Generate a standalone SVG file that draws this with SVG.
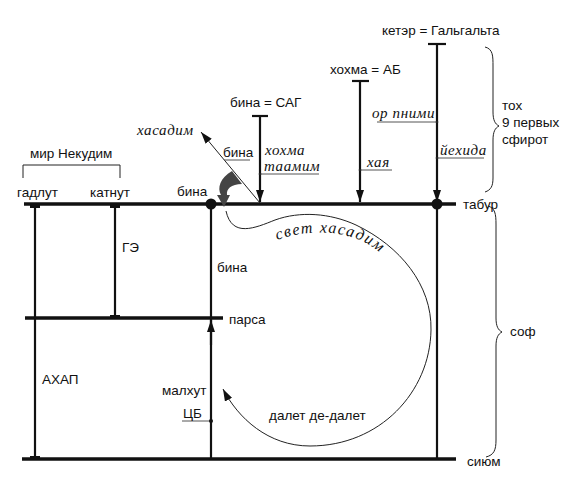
<svg xmlns="http://www.w3.org/2000/svg" width="579" height="479" viewBox="0 0 579 479">
<style>
.s{font-family:"Liberation Sans",Arial,sans-serif;font-size:13.5px;fill:#111}
.i{font-family:"Liberation Serif","Times New Roman",serif;font-style:italic;font-size:15px;fill:#111;letter-spacing:0.6px}
.thick{stroke:#111;stroke-width:3.5;fill:none}
.mid{stroke:#111;stroke-width:2.2;fill:none}
.thin{stroke:#222;stroke-width:1;fill:none}
.ul{stroke:#555;stroke-width:1;fill:none}
</style>
<defs>
<marker id="ah" viewBox="0 0 12 8" refX="12" refY="4" markerWidth="5.5" markerHeight="3.7" orient="auto" markerUnits="strokeWidth">
<path d="M0,0 L12,4 L0,8 Z" fill="#111"/>
</marker>
<marker id="ahs" viewBox="0 0 12 8" refX="12" refY="4" markerWidth="12" markerHeight="8" orient="auto" markerUnits="strokeWidth">
<path d="M0,0 L12,4 L0,8 Z" fill="#111"/>
</marker>
<path id="arcText" d="M277,240 C305,230 340,229 366,243 C378,250 387,258 394,267"/>
</defs>
<rect width="579" height="479" fill="#fff"/>

<g id="connectors">
<line class="thick" x1="24" y1="204" x2="456" y2="204"/>
<line class="thick" x1="25" y1="318" x2="223" y2="318"/>
<line class="thick" x1="22" y1="459" x2="456" y2="459"/>
<line class="mid" x1="35" y1="204" x2="35" y2="460"/>
<line class="mid" x1="115" y1="204" x2="115" y2="318"/>
<line class="mid" x1="211" y1="204" x2="211" y2="460"/>
<line class="mid" x1="437" y1="204" x2="437" y2="460"/>
<rect x="30" y="205" width="10" height="3" fill="#111"/>
<rect x="110" y="205" width="10" height="3" fill="#111"/>
<rect x="110" y="315" width="10" height="3" fill="#111"/>
<rect x="30" y="456" width="10" height="3" fill="#111"/>
<line class="mid" x1="211" y1="345" x2="211" y2="320" marker-end="url(#ah)"/>
<line class="mid" x1="437" y1="44" x2="437" y2="202" marker-end="url(#ah)"/>
<line class="mid" x1="428" y1="44" x2="446" y2="44"/>
<line class="mid" x1="360" y1="81" x2="360" y2="202" marker-end="url(#ah)"/>
<line class="mid" x1="352" y1="81" x2="369" y2="81"/>
<line class="mid" x1="260" y1="116" x2="260" y2="202" marker-end="url(#ah)"/>
<line class="mid" x1="252" y1="116" x2="268" y2="116"/>
<circle cx="211" cy="204" r="5.5" fill="#111"/>
<circle cx="437" cy="204" r="5.5" fill="#111"/>
<line class="thin" x1="260" y1="203" x2="201" y2="132" marker-end="url(#ahs)"/>
<path d="M232,171 C220,178 217,188 221,195 L217,195 L224,207 L230,195 L227,195 C226,189 231,184 242,184 Z" fill="#444"/>
<line class="ul" x1="224" y1="160" x2="250" y2="160"/>
<line class="ul" x1="260" y1="174" x2="319" y2="174"/>
<circle cx="260" cy="174" r="1.3" fill="#222"/>
<line class="ul" x1="360" y1="170" x2="392" y2="170"/>
<circle cx="360" cy="170" r="1.3" fill="#222"/>
<line class="ul" x1="377" y1="122" x2="437" y2="122"/>
<circle cx="437" cy="122" r="1.3" fill="#222"/>
<line class="ul" x1="437" y1="158" x2="484" y2="158"/>
<circle cx="437" cy="158" r="1.3" fill="#222"/>
<line class="ul" x1="182" y1="421" x2="211" y2="421"/>
<circle cx="211" cy="421" r="2" fill="#111"/>
<path class="thin" d="M226,211 C232,238 255,228 275,220 C300,211 330,213 356,225 C400,246 432,285 431,330 C430,392 380,446 310,446 C268,446 238,418 223,389" marker-end="url(#ahs)"/>
<path class="thin" d="M485,47 C493,49 493,56 493,66 L493,112 C493,120 495,124 499,126 C495,128 493,132 493,140 L493,178 C493,186 491,190 485,192"/>
<path class="thin" d="M488,206 C495,208 496,214 496,224 L496,318 C496,326 498,330 502,332 C498,334 496,338 496,346 L496,440 C496,450 494,455 486,457"/>
<path class="thin" stroke="#555" d="M23,178 L23,165 L120,165 L120,178"/>
</g>

<g id="n-keter"><text class="s" x="382" y="35">кетэр = Гальгальта</text></g>
<g id="n-hokhma"><text class="s" x="330" y="74">хохма = АБ</text></g>
<g id="n-bina-sag"><text class="s" x="230" y="107">бина = САГ</text></g>
<g id="n-or-pnimi"><text class="i" x="372" y="118">ор пними</text></g>
<g id="n-yehida"><text class="i" x="440" y="155">йехида</text></g>
<g id="n-haya"><text class="i" x="367" y="167">хая</text></g>
<g id="n-hokhma-taamim"><text class="i" x="265" y="155">хохма</text><text class="i" x="264" y="171">таамим</text></g>
<g id="n-hasadim"><text class="i" x="137" y="135">хасадим</text></g>
<g id="n-bina-small"><text class="s" x="223" y="157">бина</text></g>
<g id="n-bina-dot"><text class="s" x="177" y="196">бина</text></g>
<g id="n-nekudim"><text class="s" x="30" y="158">мир Некудим</text></g>
<g id="n-gadlut"><text class="s" x="17" y="197">гадлут</text></g>
<g id="n-katnut"><text class="s" x="90" y="197">катнут</text></g>
<g id="n-ge"><text class="s" x="122" y="252">ГЭ</text></g>
<g id="n-bina2"><text class="s" x="217" y="272">бина</text></g>
<g id="n-parsa"><text class="s" x="229" y="324">парса</text></g>
<g id="n-ahap"><text class="s" x="42" y="384">АХАП</text></g>
<g id="n-malhut"><text class="s" x="162" y="395">малхут</text></g>
<g id="n-tsb"><text class="s" x="183" y="418">ЦБ</text></g>
<g id="n-dalet"><text class="s" x="269" y="420">далет де-далет</text></g>
<g id="n-svet"><text class="i" style="font-size:16px;letter-spacing:1.4px"><textPath href="#arcText">свет хасадим</textPath></text></g>
<g id="n-tabur"><text class="s" x="463" y="209">табур</text></g>
<g id="n-toh"><text class="s" x="502" y="110">тох</text><text class="s" x="502" y="127">9 первых</text><text class="s" x="502" y="144">сфирот</text></g>
<g id="n-sof"><text class="s" x="510" y="336">соф</text></g>
<g id="n-siyum"><text class="s" x="467" y="466">сиюм</text></g>
</svg>
